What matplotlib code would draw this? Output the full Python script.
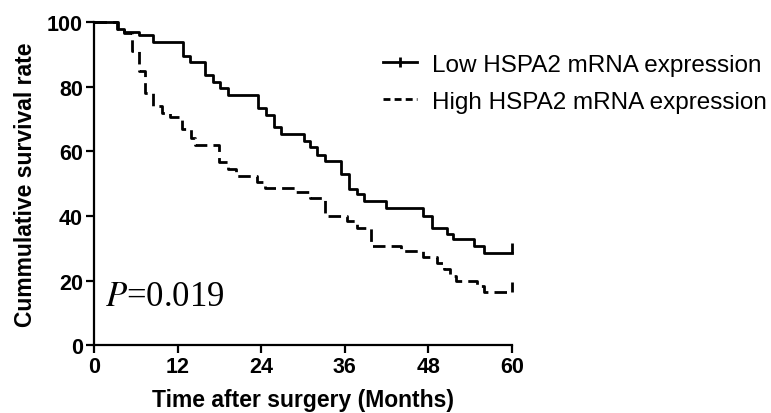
import numpy as np
import matplotlib.pyplot as plt
from matplotlib.lines import Line2D

# Kaplan-Meier step data (months, % surviving)
low_t = [0, 3.3, 4.3, 6.4, 8.5, 12.8, 13.8, 16.0, 17.1, 18.1, 19.3, 23.6, 24.7, 25.8, 26.8,
         30.1, 31.0, 32.0, 33.2, 35.4, 36.6, 37.7, 38.7, 41.9, 47.3, 48.5, 50.7, 51.6,
         54.6, 56.0]
low_s = [100, 98, 97, 96, 94, 89.5, 87.6, 83.6, 81.4, 79.6, 77.4, 73.4, 71.2, 67.5, 65.3,
         63.2, 61.2, 59, 57, 52.9, 48.3, 46.7, 44.7, 42.6, 40, 36.4, 34.4, 32.8,
         30.6, 28.5]

high_t = [0, 3.5, 4.3, 5.5, 6.5, 7.3, 8.4, 9.7, 10.9, 12.6, 13.9, 14.5, 17.9, 19.2,
          20.4, 23.4, 24.6, 29.0, 31.0, 33.2, 36.3, 37.7, 39.7, 44.0, 47.3, 49.2,
          50.2, 51.1, 52.0, 55.0, 56.0]
high_s = [100, 98, 96.5, 91, 85, 78, 74, 72, 70.6, 67, 64, 62, 56.6, 54.5,
          52.4, 50.5, 48.6, 47.3, 45.7, 40, 38.5, 36.4, 30.7, 29.2, 27.4, 25.3,
          23.5, 21.5, 19.9, 18.3, 16.4]

end_time = 60
labels = ["Low HSPA2 mRNA expression", "High HSPA2 mRNA expression"]
xticks = [0, 12, 24, 36, 48, 60]
yticks = [0, 20, 40, 60, 80, 100]

plt.rcParams['font.family'] = ['Liberation Sans', 'DejaVu Sans']

fig = plt.figure(figsize=(7.71, 4.14), dpi=100)
ax = fig.add_axes([0.122, 0.164, 0.542, 0.780])

lw = 2.0
dash = (4.5, 2.2)

# step curves, extended flat to the end of follow-up
for t, s, ls in [(low_t, low_s, '-'), (high_t, high_s, '--')]:
    tt = list(t) + [end_time]
    ss = list(s) + [s[-1]]
    line, = ax.step(tt, ss, where='post', color='black', lw=lw, linestyle=ls,
                    clip_on=False)
    if ls == '--':
        line.set_dashes(dash)
    # censor tick at the end
    ax.plot([end_time], [s[-1]], marker=2, color='black', markersize=7,
            markeredgewidth=lw, clip_on=False)

ax.set_xlim(0, 60)
ax.set_ylim(0, 100)
ax.set_xticks(xticks)
ax.set_yticks(yticks)
for sp in ['top', 'right']:
    ax.spines[sp].set_visible(False)
for sp in ['left', 'bottom']:
    ax.spines[sp].set_linewidth(1.6)
ax.tick_params(width=1.6, length=6, labelsize=15.5, pad=2)
for lab in ax.get_xticklabels() + ax.get_yticklabels():
    lab.set_fontweight('bold')

ax.set_xlabel("Time after surgery (Months)", fontsize=16.5, fontweight='bold', labelpad=8)
ax.set_ylabel("Cummulative survival rate", fontsize=16.5, fontweight='bold', labelpad=7)

ax.text(1.6, 14.9, "$P$=0.019", fontsize=25, family='Liberation Serif', va='center',
        ha='left', math_fontfamily='stix')

h_low = Line2D([0], [0], color='black', lw=lw, marker='|', markersize=7, markeredgewidth=lw)
h_high = Line2D([0], [0], color='black', lw=lw, linestyle='--', dashes=(2.5, 1.5))
fig.legend([h_low, h_high], labels, loc='upper left', bbox_to_anchor=(0.497, 0.868),
           frameon=False, fontsize=17.5, handlelength=1.4, handletextpad=0.6,
           labelspacing=0.62, borderaxespad=0, borderpad=0)

fig.savefig("out.png", dpi=100)
